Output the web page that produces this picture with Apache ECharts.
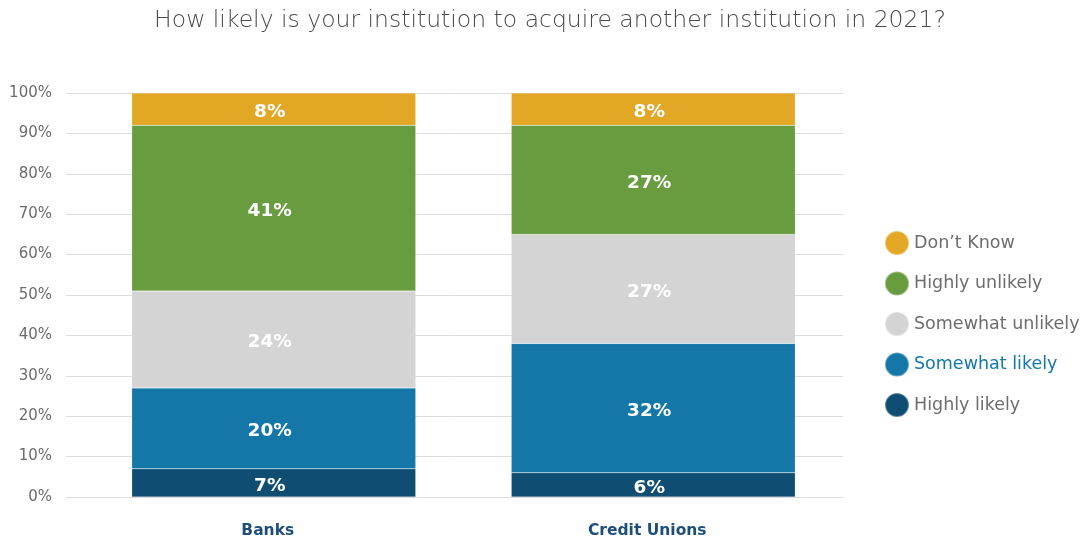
<!DOCTYPE html>
<html>
<head>
<meta charset="utf-8">
<script src="https://cdn.jsdelivr.net/npm/echarts@6/dist/echarts.min.js"></script>
<style>
  html, body { margin: 0; padding: 0; background: #ffffff; }
  #chart { width: 1089px; height: 546px; }
</style>
</head>
<body>
<div id="chart"></div>
<script>
// Survey answers, share of respondents (%)
const categories = ['Banks', 'Credit Unions'];
const highlyLikely = [7, 6];
const somewhatLikely = [20, 32];
const somewhatUnlikely = [24, 27];
const highlyUnlikely = [41, 27];
const dontKnow = [8, 8];
const yTicks = [0, 10, 20, 30, 40, 50, 60, 70, 80, 90, 100];

const FONT = '"DejaVu Sans", "Noto Sans", sans-serif';
const seriesDefs = [
  { name: 'Highly likely', data: highlyLikely, color: '#0f4e72' },
  { name: 'Somewhat likely', data: somewhatLikely, color: '#1477a8' },
  { name: 'Somewhat unlikely', data: somewhatUnlikely, color: '#d3d4d3' },
  { name: 'Highly unlikely', data: highlyUnlikely, color: '#699c3f' },
  { name: "Don\u2019t Know", data: dontKnow, color: '#e1a725' }
];

const chart = echarts.init(document.getElementById('chart'), null, { renderer: 'canvas' });

const option = {
  animation: false,
  title: {
    text: 'How likely is your institution to acquire another institution in 2021?',
    left: 545, top: 4, textAlign: 'center',
    textStyle: { fontFamily: FONT, fontWeight: 200, fontSize: 23.5, color: '#4a4a4a' }
  },
  legend: {
    orient: 'vertical',
    left: 884, top: 230, padding: 0,
    itemWidth: 24, itemHeight: 24, itemGap: 14.5,
    icon: 'circle',
    textStyle: { fontFamily: FONT, fontSize: 17.5, color: '#6d6d6d' },
    data: [
      { name: "Don\u2019t Know" },
      { name: 'Highly unlikely' },
      { name: 'Somewhat unlikely' },
      { name: 'Somewhat likely', textStyle: { color: '#1477a8' } },
      { name: 'Highly likely' }
    ]
  },
  grid: [
    { left: 66, right: 246, top: 93, bottom: 49 },
    { left: 84, right: 246, top: 93, bottom: 49 }
  ],
  xAxis: [
    { gridIndex: 0, type: 'category', data: categories, show: false },
    {
      gridIndex: 1, type: 'category', data: categories,
      axisLine: { show: false }, axisTick: { show: false },
      axisLabel: { fontFamily: FONT, fontSize: 15.5, fontWeight: 'bold', color: '#1d4f78',
        margin: 26, padding: [0, 12, 0, 0] }
    }
  ],
  yAxis: [
    {
      gridIndex: 0, type: 'value', min: 0, max: 100, interval: 10,
      axisLine: { show: false }, axisTick: { show: false },
      axisLabel: { fontFamily: FONT, fontSize: 15, color: '#6b6b6b', margin: 14,
        formatter: v => yTicks.includes(v) ? v + '%' : '' },
      splitLine: { lineStyle: { color: '#dcdcdc', width: 1 } }
    },
    { gridIndex: 1, type: 'value', min: 0, max: 100, interval: 10, show: false, splitLine: { show: false } }
  ],
  series: seriesDefs.map(s => ({
    name: s.name,
    type: 'bar',
    stack: 'total',
    xAxisIndex: 1, yAxisIndex: 1,
    barWidth: 284,
    data: s.data,
    itemStyle: { color: s.color, borderColor: 'rgba(255,255,255,0.35)', borderWidth: 0.5 },
    label: {
      show: true, position: 'inside', formatter: '{c}%', offset: [-4, 3],
      fontFamily: FONT, fontSize: 18.5, fontWeight: 'bold', color: '#ffffff'
    }
  }))
};

chart.setOption(option);
</script>
</body>
</html>
